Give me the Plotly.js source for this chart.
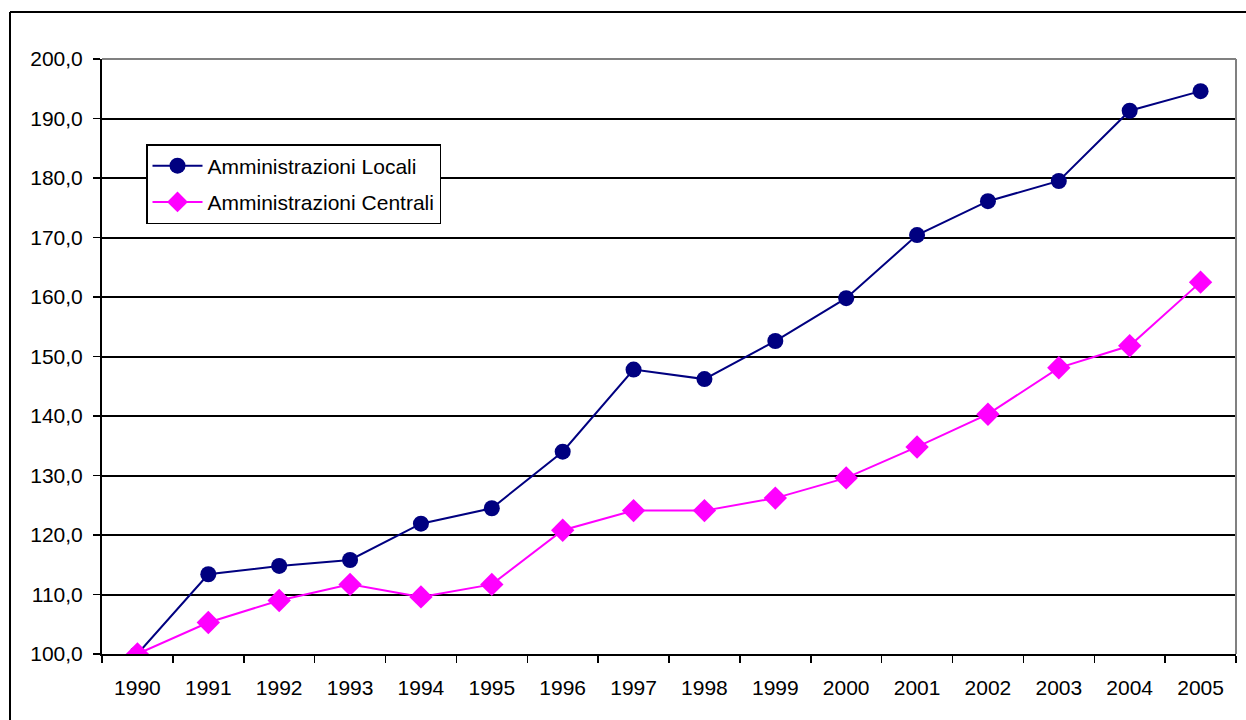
<!DOCTYPE html>
<html>
<head>
<meta charset="utf-8">
<script src="https://cdn.plot.ly/plotly-3.0.1.min.js"></script>
<style>html,body{margin:0;padding:0;background:#fff;}#chart{width:1246px;height:720px;}</style>
</head>
<body>
<div id="chart"></div>
<script>
const years = ["1990","1991","1992","1993","1994","1995","1996","1997","1998","1999","2000","2001","2002","2003","2004","2005"];
const locali = [100.0,113.4,114.8,115.8,121.9,124.5,134.0,147.8,146.2,152.6,159.8,170.4,176.1,179.5,191.3,194.6];
const centrali = [100.0,105.3,109.0,111.7,109.6,111.7,120.8,124.1,124.1,126.2,129.6,134.8,140.3,148.1,151.8,162.5];
const yTicks = [100,110,120,130,140,150,160,170,180,190,200];

const L = 102, R = 1236, T = 59, B = 654;
const W = R - L, H = B - T;
function px(x){ return (x - L) / W; }
function py(y){ return (B - y) / H; }

const traces = [
  {x: years, y: locali, name: "Amministrazioni Locali", type: "scatter", mode: "lines+markers",
   legendgroup: "a",
   line: {color: "#000080", width: 2}, marker: {symbol: "circle", size: 16, color: "#000080"}},
  {x: years, y: centrali, name: "Amministrazioni Centrali", type: "scatter", mode: "lines+markers",
   legendgroup: "b",
   line: {color: "#FF00FF", width: 2}, marker: {symbol: "diamond", size: 18, color: "#FF00FF"}}
];

const layout = {
  width: 1246, height: 720,
  margin: {l: L, r: 1246 - R, t: T, b: 720 - B},
  paper_bgcolor: "#fff", plot_bgcolor: "#fff",
  separators: ",.",
  font: {family: "Liberation Sans, Arial, sans-serif", size: 21, color: "#000"},
  showlegend: true,
  legend: {x: px(146), y: py(144), xanchor: "left", yanchor: "top",
           bordercolor: "#000", borderwidth: 1.5, bgcolor: "#fff",
           traceorder: "grouped", tracegroupgap: 6,
           font: {size: 21, color: "#000"}, itemwidth: 50},
  xaxis: {type: "category", range: [-0.5, 15.5], showgrid: false, zeroline: false,
          showline: true, linecolor: "#000", linewidth: 2,
          ticks: "outside", tickson: "boundaries", ticklen: 7, tickcolor: "#000", tickwidth: 1.5,
          ticklabelstandoff: 14,
          tickfont: {size: 21, color: "#000"}, fixedrange: true},
  yaxis: {range: [100, 200], tickvals: yTicks, tickformat: ".1f",
          showgrid: true, gridcolor: "#000", gridwidth: 2, zeroline: false,
          showline: true, linecolor: "#000", linewidth: 2,
          ticks: "outside", ticklen: 7, tickcolor: "#000", tickwidth: 1.5,
          ticklabelstandoff: 6,
          tickfont: {size: 21, color: "#000"}, fixedrange: true},
  shapes: [
    {type: "line", xref: "paper", yref: "paper", x0: 0, x1: 1, y0: 1, y1: 1, line: {color: "#808080", width: 2}},
    {type: "line", xref: "paper", yref: "paper", x0: 1, x1: 1, y0: 0, y1: 1, line: {color: "#808080", width: 2}},
    {type: "line", xref: "paper", yref: "paper", x0: px(10), x1: px(1260), y0: py(12), y1: py(12), line: {color: "#000", width: 2}},
    {type: "line", xref: "paper", yref: "paper", x0: px(10), x1: px(10), y0: py(12), y1: py(740), line: {color: "#000", width: 2}}
  ]
};

Plotly.newPlot("chart", traces, layout, {displayModeBar: false, staticPlot: true});
</script>
</body>
</html>
